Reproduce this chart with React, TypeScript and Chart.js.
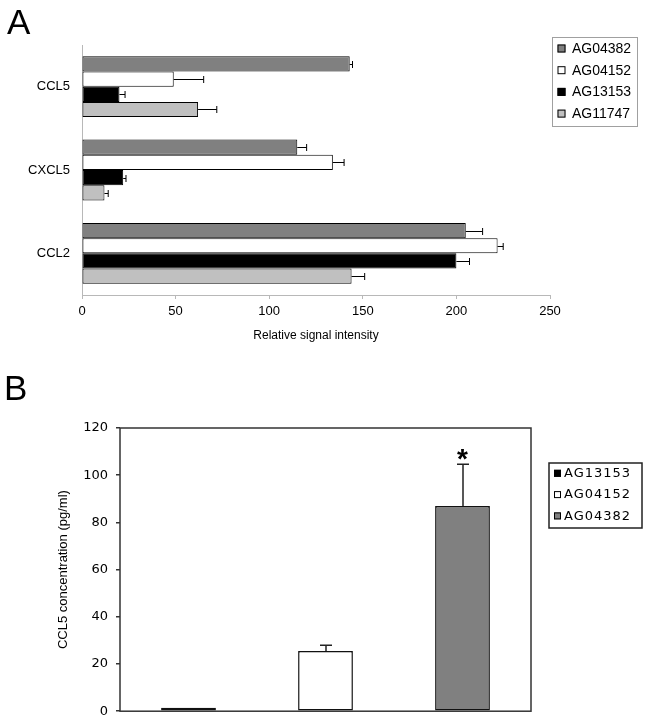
import React, { useEffect, useRef } from 'react';
import { Chart, registerables } from 'chart.js';

Chart.register(...registerables);

// ---------- Panel A data ----------
const categoriesA = ['CCL5', 'CXCL5', 'CCL2'];
const seriesNamesA = ['AG04382', 'AG04152', 'AG13153', 'AG11747'];
const seriesColorsA = ['#808080', '#ffffff', '#000000', '#c0c0c0'];
const ag04382A = [143, 115, 205];
const ag04382ErrA = [1.5, 5, 9];
const ag04152A = [49, 134, 222];
const ag04152ErrA = [16, 6, 3];
const ag13153A = [20, 22, 200];
const ag13153ErrA = [3, 1.5, 7];
const ag11747A = [62, 12, 144];
const ag11747ErrA = [10, 2, 7];
const xTicksA = [0, 50, 100, 150, 200, 250];
const xTitleA = 'Relative signal intensity';

// ---------- Panel B data ----------
const categoriesB = ['AG13153', 'AG04152', 'AG04382'];
const colorsB = ['#000000', '#ffffff', '#808080'];
const concentrationB = [1.5, 25.5, 86.9];
const concentrationErrB = [0, 2.4, 17.7];
const marksB = ['', '', '*'];
const yTicksB = [0, 20, 40, 60, 80, 100, 120];
const yTitleB = 'CCL5 concentration (pg/ml)';

const FONT = '"Liberation Sans", Arial, Helvetica, sans-serif';
const FONT_B = '"DejaVu Sans", sans-serif';

const errorBarPlugin = {
  id: 'errorBars',
  afterDatasetsDraw(chart: any, _args: any, opts: any) {
    const { ctx } = chart;
    const horizontal = chart.options.indexAxis === 'y';
    const valueScale = horizontal ? chart.scales.x : chart.scales.y;
    ctx.save();
    ctx.strokeStyle = opts.color;
    ctx.lineWidth = opts.width;
    chart.data.datasets.forEach((ds: any, di: number) => {
      const meta = chart.getDatasetMeta(di);
      const errs = ds.errors || [];
      meta.data.forEach((el: any, i: number) => {
        const v = ds.data[i];
        const e = errs[i];
        if (v == null || !e) return;
        const end = valueScale.getPixelForValue(v + e);
        ctx.beginPath();
        if (horizontal) {
          const y = Math.round(el.y) + 0.5;
          ctx.moveTo(el.x, y);
          ctx.lineTo(end, y);
          ctx.moveTo(end, y - opts.cap);
          ctx.lineTo(end, y + opts.cap);
        } else {
          const x = Math.round(el.x);
          ctx.moveTo(x, el.y);
          ctx.lineTo(x, end);
          ctx.moveTo(x - opts.cap, end);
          ctx.lineTo(x + opts.cap, end);
        }
        ctx.stroke();
      });
    });
    ctx.restore();
  },
};

const markPlugin = {
  id: 'marks',
  afterDatasetsDraw(chart: any, _args: any, opts: any) {
    if (!opts || !opts.font) return;
    const { ctx } = chart;
    const yScale = chart.scales.y;
    ctx.save();
    ctx.font = opts.font;
    ctx.fillStyle = opts.color;
    ctx.textAlign = 'center';
    ctx.textBaseline = 'alphabetic';
    chart.data.datasets.forEach((ds: any, di: number) => {
      const meta = chart.getDatasetMeta(di);
      const marks = ds.marks || [];
      meta.data.forEach((el: any, i: number) => {
        const v = ds.data[i];
        const m = marks[i];
        if (v == null || !m) return;
        const top = yScale.getPixelForValue(v + ((ds.errors || [])[i] || 0));
        const cy = top - opts.gap;
        const mt = ctx.measureText(m);
        const y = cy - (mt.actualBoundingBoxDescent - mt.actualBoundingBoxAscent) / 2;
        ctx.fillText(m, el.x, y);
      });
    });
    ctx.restore();
  },
};

const boxLegendPlugin = {
  id: 'boxLegend',
  afterDraw(chart: any, _args: any, o: any) {
    if (!o || !o.width) return;
    const { ctx } = chart;
    ctx.save();
    ctx.lineWidth = o.borderWidth;
    ctx.strokeStyle = o.borderColor;
    ctx.strokeRect(o.left, o.top, o.width, o.height);
    ctx.font = o.font;
    ctx.textBaseline = 'middle';
    ctx.textAlign = 'left';
    if ('letterSpacing' in ctx) (ctx as any).letterSpacing = o.letterSpacing || '0px';
    chart.data.datasets.forEach((ds: any, i: number) => {
      const cy = o.rowTop + i * o.rowGap;
      const s = o.swatch;
      ctx.fillStyle = ds.backgroundColor;
      ctx.fillRect(o.swatchX, cy - s / 2, s, s);
      ctx.lineWidth = 1;
      ctx.strokeStyle = o.swatchBorder;
      ctx.strokeRect(o.swatchX + 0.5, cy - s / 2 + 0.5, s - 1, s - 1);
      ctx.fillStyle = '#000';
      ctx.fillText(ds.label, o.textX, cy + 0.5);
    });
    if ('letterSpacing' in ctx) (ctx as any).letterSpacing = '0px';
    ctx.restore();
  },
};

const frameBoxPlugin = {
  id: 'frameBox',
  afterDraw(chart: any, _args: any, o: any) {
    if (!o || !o.color) return;
    const { ctx, chartArea } = chart;
    ctx.save();
    ctx.strokeStyle = o.color;
    ctx.lineWidth = o.width;
    ctx.strokeRect(chartArea.left, chartArea.top, chartArea.right - chartArea.left, chartArea.bottom - chartArea.top);
    ctx.restore();
  },
};

export default function App() {
  const refA = useRef<HTMLCanvasElement>(null);
  const refB = useRef<HTMLCanvasElement>(null);

  useEffect(() => {
    Chart.defaults.font.family = FONT;
    Chart.defaults.color = '#000';

    const seriesA = [ag04382A, ag04152A, ag13153A, ag11747A];
    const errsA = [ag04382ErrA, ag04152ErrA, ag13153ErrA, ag11747ErrA];

    const chartA = new Chart(refA.current!, {
      type: 'bar',
      data: {
        labels: categoriesA,
        datasets: seriesNamesA.map((name, i) => ({
          label: name,
          data: seriesA[i],
          errors: errsA[i],
          backgroundColor: seriesColorsA[i],
          borderColor: '#000',
          borderWidth: 1,
          borderSkipped: false,
          barPercentage: 1,
          categoryPercentage: 0.73,
        })) as any,
      },
      plugins: [errorBarPlugin, boxLegendPlugin],
      options: {
        indexAxis: 'y',
        responsive: false,
        animation: false,
        devicePixelRatio: 1,
        layout: { padding: { left: 0, top: 45, right: 101, bottom: 0 } },
        scales: {
          x: {
            type: 'linear',
            min: 0,
            max: 250,
            afterBuildTicks: (axis: any) => {
              axis.ticks = xTicksA.map((v) => ({ value: v }));
            },
            afterFit: (axis: any) => {
              axis.height = 55;
            },
            grid: { display: true, drawOnChartArea: false, drawTicks: true, tickLength: 4, color: '#b8b8b8' },
            border: { display: true, color: '#b8b8b8', width: 1 },
            ticks: { font: { size: 13, family: FONT }, color: '#000', padding: 5, maxRotation: 0 },
            title: {
              display: true,
              text: xTitleA,
              font: { size: 12, family: FONT },
              color: '#000',
              padding: { top: 0, bottom: 7 },
            },
          },
          y: {
            type: 'category',
            afterFit: (axis: any) => {
              axis.width = 82;
            },
            grid: { display: false, drawTicks: false },
            border: { display: true, color: '#b8b8b8', width: 1 },
            ticks: { font: { size: 13, family: FONT }, color: '#000', padding: 12 },
          },
        },
        plugins: {
          legend: { display: false },
          tooltip: { enabled: false },
          errorBars: { color: '#000', width: 1, cap: 3.5 },
          boxLegend: {
            left: 552.5,
            top: 37.5,
            width: 85,
            height: 89,
            borderColor: '#a0a0a0',
            borderWidth: 1,
            font: `14px ${FONT}`,
            rowTop: 48.5,
            rowGap: 21.7,
            swatch: 8,
            swatchX: 557.5,
            swatchBorder: '#000',
            textX: 572,
          },
        } as any,
      },
    } as any);

    const chartB = new Chart(refB.current!, {
      type: 'bar',
      data: {
        labels: categoriesB,
        datasets: categoriesB.map((name, i) => ({
          label: name,
          data: categoriesB.map((_, j) => (j === i ? concentrationB[i] : null)),
          errors: categoriesB.map((_, j) => (j === i ? concentrationErrB[i] : 0)),
          marks: categoriesB.map((_, j) => (j === i ? marksB[i] : '')),
          backgroundColor: colorsB[i],
          borderColor: '#111',
          borderWidth: 1.5,
          borderSkipped: false,
          grouped: false,
          barPercentage: 0.4,
          categoryPercentage: 1,
        })) as any,
      },
      plugins: [errorBarPlugin, markPlugin, boxLegendPlugin, frameBoxPlugin],
      options: {
        responsive: false,
        animation: false,
        devicePixelRatio: 1,
        layout: { padding: { left: 0, top: 68, right: 120, bottom: 12 } },
        scales: {
          x: { display: false },
          y: {
            type: 'linear',
            min: 0,
            max: 120,
            afterBuildTicks: (axis: any) => {
              axis.ticks = yTicksB.map((v) => ({ value: v }));
            },
            afterFit: (axis: any) => {
              axis.width = 120;
            },
            grid: { display: true, drawOnChartArea: false, drawTicks: true, tickLength: 4, color: '#333', lineWidth: 1.5 },
            border: { display: false },
            ticks: { font: { size: 13, family: FONT_B }, color: '#000', padding: 8 },
            title: {
              display: true,
              text: yTitleB,
              font: { size: 13, family: FONT },
              color: '#000',
              padding: { top: 56, bottom: 0 },
            },
          },
        },
        plugins: {
          legend: { display: false },
          tooltip: { enabled: false },
          errorBars: { color: '#222', width: 1.5, cap: 6 },
          marks: { font: `bold 28px ${FONT}`, color: '#000', gap: 10 },
          frameBox: { color: '#333', width: 1.5 },
          boxLegend: {
            left: 549,
            top: 103,
            width: 93,
            height: 65,
            borderColor: '#222',
            borderWidth: 1.5,
            font: `13px ${FONT_B}`,
            letterSpacing: '1px',
            rowTop: 113.3,
            rowGap: 21.3,
            swatch: 7,
            swatchX: 554,
            swatchBorder: '#000',
            textX: 564,
          },
        } as any,
      },
    } as any);

    return () => {
      chartA.destroy();
      chartB.destroy();
    };
  }, []);

  return (
    <div
      style={{
        position: 'absolute',
        left: 0,
        top: 0,
        width: 651,
        height: 727,
        background: '#fff',
        overflow: 'hidden',
      }}
    >
      <canvas
        ref={refA}
        width={651}
        height={350}
        style={{ position: 'absolute', left: 0, top: 0, width: 651, height: 350 }}
      />
      <canvas
        ref={refB}
        width={651}
        height={367}
        style={{ position: 'absolute', left: 0, top: 360, width: 651, height: 367 }}
      />
      <div
        style={{
          position: 'absolute',
          left: 7,
          top: 4,
          fontFamily: FONT,
          fontSize: 35,
          lineHeight: '35px',
          color: '#000',
        }}
      >
        A
      </div>
      <div
        style={{
          position: 'absolute',
          left: 4,
          top: 370,
          fontFamily: FONT,
          fontSize: 35,
          lineHeight: '35px',
          color: '#000',
        }}
      >
        B
      </div>
    </div>
  );
}
